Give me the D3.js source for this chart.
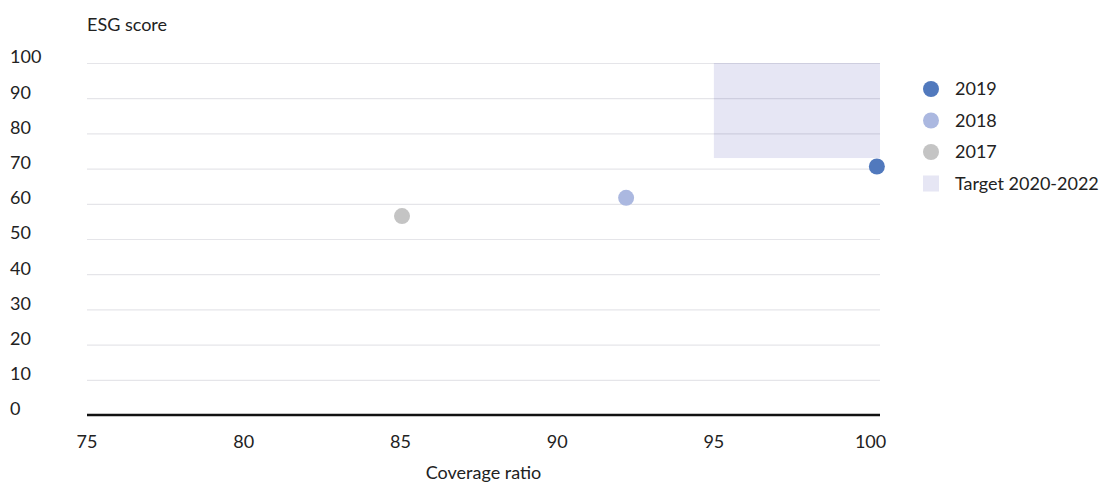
<!DOCTYPE html>
<html><head><meta charset="utf-8">
<script src="https://cdn.jsdelivr.net/npm/d3@7"></script>
<style>
html,body{margin:0;padding:0;background:#fff;}
text{font-family:Lato,"Open Sans",sans-serif;fill:#222;}
</style></head>
<body><svg id="c" width="1109" height="485"></svg>
<script>
const years = ["2019","2018","2017"];
const coverage = [100.2, 92.2, 85.05];
const esg = [70.6, 61.7, 56.5];
const colors = ["#5179bd","#abb8e0","#c4c4c4"];
const target = {label:"Target 2020-2022", x0:95, y0:73, y1:100};
const xTicks = [75,80,85,90,95,100];
const yTicks = [0,10,20,30,40,50,60,70,80,90,100];
const FS = 18;

const svg = d3.select("#c");
const x = d3.scaleLinear().domain([75,100.3]).range([87,880]);
const y = d3.scaleLinear().domain([0,100]).range([415,63]);

// target area
svg.append("rect")
  .attr("x", x(target.x0)).attr("y", y(target.y1))
  .attr("width", x(x.domain()[1]) - x(target.x0))
  .attr("height", y(target.y0) - y(target.y1))
  .attr("fill", "#e6e6f4");

// grid
svg.append("g").selectAll("line").data(yTicks.filter(d=>d>0)).join("line")
  .attr("x1", x.range()[0]).attr("x2", x.range()[1])
  .attr("y1", d=>y(d)+0.5).attr("y2", d=>y(d)+0.5)
  .attr("stroke", "rgba(0,0,40,0.1)").attr("stroke-width", 1.2);

// baseline
svg.append("line").attr("x1", x.range()[0]).attr("x2", x.range()[1])
  .attr("y1", y(0)).attr("y2", y(0)).attr("stroke", "#111").attr("stroke-width", 2.5);

// y labels
svg.append("g").selectAll("text").data(yTicks).join("text")
  .attr("x", 10).attr("y", d=>y(d)-6).attr("dy","0.35em")
  .attr("font-size", FS).text(d=>d);

// x labels
svg.append("g").selectAll("text").data(xTicks).join("text")
  .attr("x", d=>x(d)).attr("y", 442).attr("dy","0.35em")
  .attr("text-anchor","middle").attr("font-size", FS).text(d=>d);

// axis titles
svg.append("text").attr("x", 87).attr("y", 25).attr("dy","0.35em").attr("font-size",FS).text("ESG score");
svg.append("text").attr("x", (x.range()[0]+x.range()[1])/2).attr("y", 473).attr("dy","0.35em")
  .attr("text-anchor","middle").attr("font-size",FS).text("Coverage ratio");

// points
svg.append("g").selectAll("circle").data(years).join("circle")
  .attr("cx", (d,i)=>x(coverage[i])).attr("cy", (d,i)=>y(esg[i]))
  .attr("r", 8).attr("fill", (d,i)=>colors[i]);

// legend
const lg = svg.append("g");
years.forEach((yr,i)=>{
  const cy = 89 + i*31.5;
  lg.append("circle").attr("cx",931).attr("cy",cy).attr("r",8).attr("fill",colors[i]);
  lg.append("text").attr("x",955).attr("y",cy).attr("dy","0.35em").attr("font-size",FS).text(yr);
});
const ty = 89 + 3*31.5;
lg.append("rect").attr("x",923).attr("y",ty-8).attr("width",16).attr("height",16).attr("fill","#e6e6f4");
lg.append("text").attr("x",955).attr("y",ty).attr("dy","0.35em").attr("font-size",FS).text(target.label);
</script></body></html>
